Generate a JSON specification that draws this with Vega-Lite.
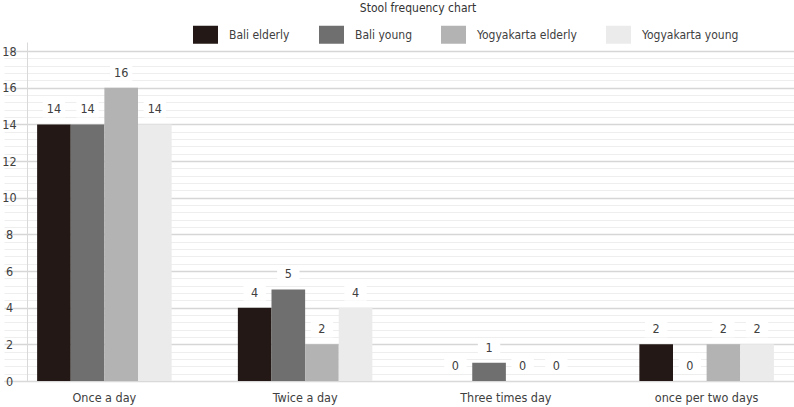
{
  "$schema": "https://vega.github.io/schema/vega-lite/v6.json",
  "autosize": "none",
  "width": 767,
  "height": 339,
  "padding": {"left": 27, "top": 42, "right": 0, "bottom": 26},
  "background": "white",
  "config": {
    "font": "DejaVu Sans Condensed",
    "view": {"stroke": null}
  },
  "title": {
    "text": "Stool frequency chart",
    "anchor": "start",
    "dx": 358,
    "offset": 7,
    "fontSize": 12,
    "fontWeight": "normal",
    "color": "#333333",
    "font": "DejaVu Sans Condensed"
  },
  "data": {
    "values": [
      {"category": "Once a day", "group": "Bali elderly", "count": 14},
      {"category": "Once a day", "group": "Bali young", "count": 14},
      {"category": "Once a day", "group": "Yogyakarta elderly", "count": 16},
      {"category": "Once a day", "group": "Yogyakarta young", "count": 14},
      {"category": "Twice a day", "group": "Bali elderly", "count": 4},
      {"category": "Twice a day", "group": "Bali young", "count": 5},
      {"category": "Twice a day", "group": "Yogyakarta elderly", "count": 2},
      {"category": "Twice a day", "group": "Yogyakarta young", "count": 4},
      {"category": "Three times day", "group": "Bali elderly", "count": 0},
      {"category": "Three times day", "group": "Bali young", "count": 1},
      {"category": "Three times day", "group": "Yogyakarta elderly", "count": 0},
      {"category": "Three times day", "group": "Yogyakarta young", "count": 0},
      {"category": "once per two days", "group": "Bali elderly", "count": 2},
      {"category": "once per two days", "group": "Bali young", "count": 0},
      {"category": "once per two days", "group": "Yogyakarta elderly", "count": 2},
      {"category": "once per two days", "group": "Yogyakarta young", "count": 2}
    ]
  },
  "encoding": {
    "x": {
      "field": "category",
      "type": "nominal",
      "sort": ["Once a day", "Twice a day", "Three times day", "once per two days"],
      "scale": {"range": [-23, 780], "paddingInner": 0.33, "paddingOuter": 0.165},
      "axis": {
        "title": null,
        "labelAngle": 0,
        "ticks": false,
        "domainColor": "#d9d9d9",
        "labelFontSize": 12.5,
        "labelColor": "#404040",
        "labelPadding": 10,
        "labelFont": "DejaVu Sans Condensed"
      }
    },
    "xOffset": {
      "field": "group",
      "type": "nominal",
      "sort": ["Bali elderly", "Bali young", "Yogyakarta elderly", "Yogyakarta young"],
      "scale": {"paddingInner": 0, "paddingOuter": 0}
    },
    "y": {
      "field": "count",
      "type": "quantitative",
      "scale": {"domain": [0, 18.5], "nice": false},
      "axis": {
        "title": null,
        "values": [0, 0.4, 0.8, 1.2, 1.6, 2, 2.4, 2.8, 3.2, 3.6, 4, 4.4, 4.8, 5.2, 5.6, 6, 6.4, 6.8, 7.2, 7.6, 8, 8.4, 8.8, 9.2, 9.6, 10, 10.4, 10.8, 11.2, 11.6, 12, 12.4, 12.8, 13.2, 13.6, 14, 14.4, 14.8, 15.2, 15.6, 16, 16.4, 16.8, 17.2, 17.6, 18],
        "labelExpr": "abs(datum.value % 2) < 0.01 ? format(datum.value, 'd') : ''",
        "labelOverlap": false,
        "labelBound": false,
        "grid": true,
        "gridColor": {"condition": {"test": "abs(datum.value % 2) < 0.01", "value": "#d6d6d6"}, "value": "#eeeeee"},
        "gridWidth": {"condition": {"test": "abs(datum.value % 2) < 0.01", "value": 1.5}, "value": 1},
        "ticks": false,
        "domain": true,
        "domainColor": "#d9d9d9",
        "labelAlign": "center",
        "labelPadding": 18,
        "labelFontSize": 12.5,
        "labelColor": "#404040",
        "labelFont": "DejaVu Sans Condensed"
      }
    }
  },
  "layer": [
    {
      "mark": {"type": "bar"},
      "encoding": {
        "color": {
          "field": "group",
          "type": "nominal",
          "sort": ["Bali elderly", "Bali young", "Yogyakarta elderly", "Yogyakarta young"],
          "scale": {
            "domain": ["Bali elderly", "Bali young", "Yogyakarta elderly", "Yogyakarta young"],
            "range": ["#231815", "#6f6f6f", "#b3b3b3", "#ebebeb"]
          },
          "legend": {
            "title": null,
            "orient": "none",
            "legendX": 166,
            "legendY": -20,
            "direction": "horizontal",
            "symbolType": "M-1,-0.72L1,-0.72L1,0.72L-1,0.72Z",
            "symbolSize": 625,
            "symbolStrokeWidth": 0,
            "labelFontSize": 12,
            "labelColor": "#404040",
            "labelOffset": 11,
            "columnPadding": 29,
            "labelFont": "DejaVu Sans Condensed"
          }
        }
      }
    },
    {
      "mark": {
        "type": "point",
        "shape": "M-1.4,-1L1.4,-1L1.4,1L-1.4,1Z",
        "filled": true,
        "fill": "white",
        "opacity": 1,
        "size": 256,
        "yOffset": -15
      }
    },
    {
      "mark": {
        "type": "text",
        "fontSize": 12.5,
        "color": "#404040",
        "baseline": "middle",
        "yOffset": -15,
        "font": "DejaVu Sans Condensed"
      },
      "encoding": {
        "text": {"field": "count", "type": "quantitative"}
      }
    }
  ]
}
